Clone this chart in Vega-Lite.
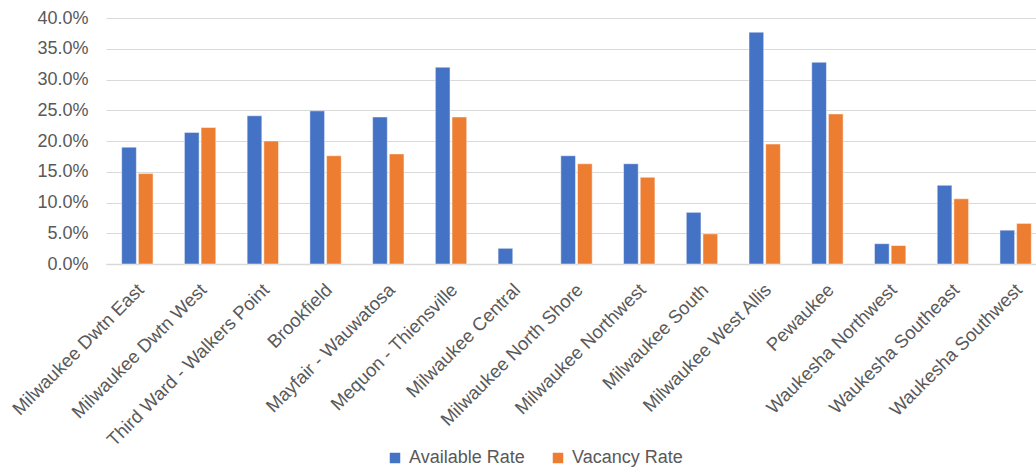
{
  "$schema": "https://vega.github.io/schema/vega-lite/v6.json",
  "width": 941,
  "height": 246,
  "autosize": {"type": "none"},
  "padding": {"left": 106, "top": 18, "right": 0, "bottom": 203},
  "background": "white",
  "config": {
    "view": {"stroke": null},
    "font": "Liberation Sans"
  },
  "data": {
    "values": [
      {"market": "Milwaukee Dwtn East", "series": "Available Rate", "rate": 0.190},
      {"market": "Milwaukee Dwtn East", "series": "Vacancy Rate", "rate": 0.147},
      {"market": "Milwaukee Dwtn West", "series": "Available Rate", "rate": 0.214},
      {"market": "Milwaukee Dwtn West", "series": "Vacancy Rate", "rate": 0.222},
      {"market": "Third Ward - Walkers Point", "series": "Available Rate", "rate": 0.241},
      {"market": "Third Ward - Walkers Point", "series": "Vacancy Rate", "rate": 0.200},
      {"market": "Brookfield", "series": "Available Rate", "rate": 0.249},
      {"market": "Brookfield", "series": "Vacancy Rate", "rate": 0.176},
      {"market": "Mayfair - Wauwatosa", "series": "Available Rate", "rate": 0.239},
      {"market": "Mayfair - Wauwatosa", "series": "Vacancy Rate", "rate": 0.179},
      {"market": "Mequon - Thiensville", "series": "Available Rate", "rate": 0.320},
      {"market": "Mequon - Thiensville", "series": "Vacancy Rate", "rate": 0.239},
      {"market": "Milwaukee Central", "series": "Available Rate", "rate": 0.0255},
      {"market": "Milwaukee North Shore", "series": "Available Rate", "rate": 0.176},
      {"market": "Milwaukee North Shore", "series": "Vacancy Rate", "rate": 0.163},
      {"market": "Milwaukee Northwest", "series": "Available Rate", "rate": 0.163},
      {"market": "Milwaukee Northwest", "series": "Vacancy Rate", "rate": 0.141},
      {"market": "Milwaukee South", "series": "Available Rate", "rate": 0.084},
      {"market": "Milwaukee South", "series": "Vacancy Rate", "rate": 0.049},
      {"market": "Milwaukee West Allis", "series": "Available Rate", "rate": 0.377},
      {"market": "Milwaukee West Allis", "series": "Vacancy Rate", "rate": 0.195},
      {"market": "Pewaukee", "series": "Available Rate", "rate": 0.328},
      {"market": "Pewaukee", "series": "Vacancy Rate", "rate": 0.244},
      {"market": "Waukesha Northwest", "series": "Available Rate", "rate": 0.033},
      {"market": "Waukesha Northwest", "series": "Vacancy Rate", "rate": 0.030},
      {"market": "Waukesha Southeast", "series": "Available Rate", "rate": 0.128},
      {"market": "Waukesha Southeast", "series": "Vacancy Rate", "rate": 0.106},
      {"market": "Waukesha Southwest", "series": "Available Rate", "rate": 0.055},
      {"market": "Waukesha Southwest", "series": "Vacancy Rate", "rate": 0.066}
    ]
  },
  "mark": {"type": "bar", "stroke": "white", "strokeWidth": 0.8, "strokeOpacity": 0.6},
  "encoding": {
    "x": {
      "field": "market",
      "type": "nominal",
      "sort": null,
      "title": null,
      "scale": {"paddingInner": 0.5, "paddingOuter": 0.25},
      "axis": {
        "labelAngle": -45,
        "labelAlign": "right",
        "labelBaseline": "top",
        "labelPadding": 16,
        "labelOffset": -3,
        "labelFontSize": 18.5,
        "labelColor": "#595959",
        "ticks": false,
        "domainColor": "#d9d9d9",
        "domainWidth": 1.5,
        "labelLimit": 300
      }
    },
    "xOffset": {
      "field": "series",
      "type": "nominal",
      "scale": {"paddingInner": 0.12}
    },
    "y": {
      "field": "rate",
      "type": "quantitative",
      "title": null,
      "scale": {"domain": [0, 0.4], "nice": false},
      "axis": {
        "format": ".1%",
        "values": [0, 0.05, 0.1, 0.15, 0.2, 0.25, 0.3, 0.35, 0.4],
        "labelFontSize": 18,
        "labelColor": "#595959",
        "labelPadding": 18,
        "ticks": false,
        "domain": false,
        "gridColor": "#d9d9d9",
        "gridWidth": 1.2
      }
    },
    "color": {
      "field": "series",
      "type": "nominal",
      "scale": {"domain": ["Available Rate", "Vacancy Rate"], "range": ["#4472C4", "#ED7D31"]},
      "legend": {
        "title": null,
        "orient": "none",
        "direction": "horizontal",
        "legendX": 280,
        "legendY": 431,
        "symbolType": "square",
        "symbolSize": 110,
        "symbolStrokeWidth": 0,
        "labelFontSize": 18,
        "labelColor": "#595959",
        "labelOffset": 5,
        "columnPadding": 24
      }
    }
  }
}
